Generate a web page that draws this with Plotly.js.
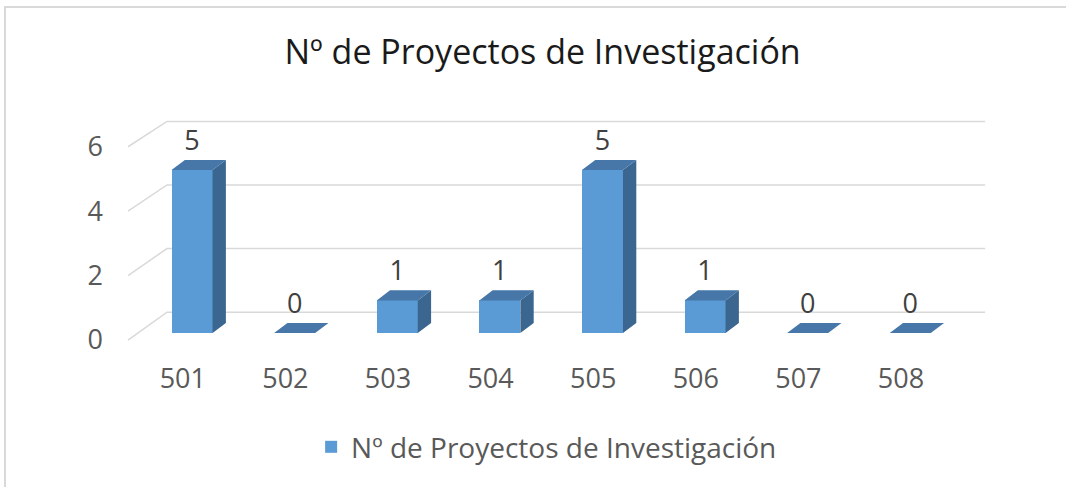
<!DOCTYPE html>
<html>
<head>
<meta charset="utf-8">
<script src="https://cdn.plot.ly/plotly-3.0.1.min.js"></script>
<style>
  html, body { margin: 0; padding: 0; background: #fff; }
  #wrap { position: relative; width: 1066px; height: 487px; overflow: hidden; }
  #chart { position: absolute; left: 0; top: 0; width: 1066px; height: 487px; }
  #frame { position: absolute; left: 4px; top: 6px; width: 1100px; height: 500px;
           border-left: 2px solid #d9d9d9; border-top: 2px solid #d9d9d9; pointer-events: none; }
</style>
</head>
<body>
<div id="wrap"><div id="chart"></div><div id="frame"></div></div>
<script>
// ---- data ----
const chartTitle = 'Nº de Proyectos de Investigación';
const seriesName = 'Nº de Proyectos de Investigación';
const categories = ['501', '502', '503', '504', '505', '506', '507', '508'];
const values = [5, 0, 1, 1, 5, 1, 0, 0];
const yTickVals = [0, 2, 4, 6];
const yTickText = ['0', '2', '4', '6'];

// ---- pseudo-3D geometry (in axis units) ----
const FONT = '"Open Sans", Lato, "Noto Sans", sans-serif';
const hw = 0.20;      // half width of bar front
const dx = 0.13;      // depth shift in x
const dy = 0.31;      // depth shift in y
const labelLift = 0.1;
const wallFrontX = -0.624, wallBackX = -0.244, wallRightX = 7.73;
const backScale = 0.975, backOff = 0.64;   // back wall value mapping
const frontScale = 0.988, frontOff = -0.215;

const idx = categories.map((c, i) => i);

// front faces
const front = {
  type: 'bar', x: idx, y: values, width: 2 * hw, name: seriesName,
  marker: { color: '#5b9bd5', line: { width: 0 } },
  hoverinfo: 'skip', showlegend: true
};

// top faces
const topX = [], topY = [];
values.forEach((v, i) => {
  topX.push(i - hw, i + hw, i + hw + dx, i - hw + dx, i - hw, null);
  topY.push(v, v, v + dy, v + dy, v, null);
});
const topFaces = {
  type: 'scatter', mode: 'lines', x: topX, y: topY, fill: 'toself',
  fillcolor: '#4677a8', line: { width: 0, color: '#4677a8' }, showlegend: false, hoverinfo: 'skip'
};

// side faces
const sideX = [], sideY = [];
values.forEach((v, i) => {
  if (v > 0) {
    sideX.push(i + hw, i + hw + dx, i + hw + dx, i + hw, i + hw, null);
    sideY.push(v, v + dy, dy, 0, v, null);
  }
});
const sideFaces = {
  type: 'scatter', mode: 'lines', x: sideX, y: sideY, fill: 'toself',
  fillcolor: '#3b6690', line: { width: 0, color: '#3b6690' }, showlegend: false, hoverinfo: 'skip'
};

// data labels
const labels = {
  type: 'scatter', mode: 'text', x: idx, y: values.map(v => v + dy + labelLift),
  text: values.map(v => String(v)), textposition: 'top center',
  textfont: { family: FONT, size: 27, color: '#404040' },
  showlegend: false, hoverinfo: 'skip', cliponaxis: false
};

// back wall gridlines (below traces)
const shapes = [];
yTickVals.forEach(v => {
  const yb = v * backScale + backOff;
  const yf = v * frontScale + frontOff;
  shapes.push({ type: 'path', xref: 'x', yref: 'y', layer: 'below',
    path: `M ${wallFrontX} ${yf} L ${wallBackX} ${yb} L ${wallRightX} ${yb}`,
    line: { color: '#d9d9d9', width: 1.5 } });
});

// invisible trace for the y2 tick label axis
const y2dummy = { type: 'scatter', mode: 'lines', x: [0], y: [0], yaxis: 'y2',
  line: { width: 0 }, showlegend: false, hoverinfo: 'skip', opacity: 0 };

const layout = {
  width: 1066, height: 487,
  paper_bgcolor: '#ffffff', plot_bgcolor: 'rgba(0,0,0,0)',
  margin: { l: 104, r: 66, t: 100, b: 127 },
  font: { family: FONT, color: '#595959' },
  title: { text: chartTitle, font: { family: FONT, size: 34, color: '#1a1a1a' },
    x: 0.509, xref: 'container', xanchor: 'center', y: 1 - 52 / 487, yref: 'container', yanchor: 'middle' },
  xaxis: { range: [-0.858, 7.875], showgrid: false, zeroline: false, showline: false,
    tickmode: 'array', tickvals: idx.map(i => i - 0.09), ticktext: categories,
    ticks: '', tickfont: { family: FONT, size: 27, color: '#595959' }, fixedrange: true },
  yaxis: { range: [-0.828, 7.147], showgrid: false, zeroline: false, showline: false,
    showticklabels: false, fixedrange: true },
  yaxis2: { overlaying: 'y', side: 'left', range: [-0.621, 7.453], showgrid: false, zeroline: false,
    showline: false, tickmode: 'array', tickvals: yTickVals, ticktext: yTickText,
    ticks: '', tickfont: { family: FONT, size: 27, color: '#595959' }, fixedrange: true },
  shapes: shapes,
  showlegend: true,
  legend: { orientation: 'h', x: 0.494, xanchor: 'center', y: -0.335, yanchor: 'middle',
    font: { family: FONT, size: 28, color: '#595959' }, bgcolor: 'rgba(0,0,0,0)' },
  bargap: 0
};

Plotly.newPlot('chart', [front, sideFaces, topFaces, labels, y2dummy], layout,
  { displayModeBar: false, staticPlot: true });
</script>
</body>
</html>
